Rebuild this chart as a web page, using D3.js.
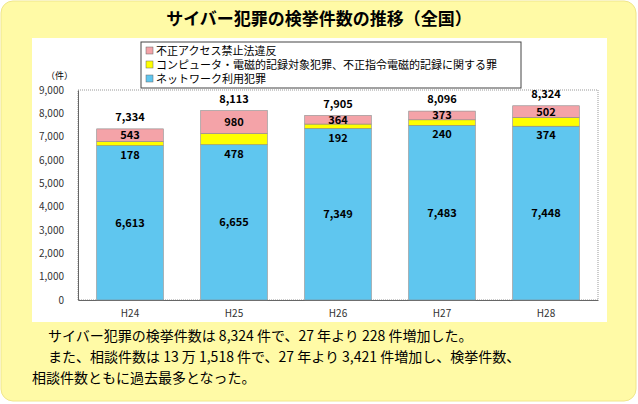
<!DOCTYPE html>
<html><head><meta charset="utf-8">
<script src="https://cdn.jsdelivr.net/npm/d3@7"></script>
<style>body{margin:0;background:#fff}text{font-family:"Noto Sans CJK JP",sans-serif}</style>
</head><body><svg id="c" width="638" height="404"></svg>
<script>
var years = ['H24','H25','H26','H27','H28'];
var network = [6613, 6655, 7349, 7483, 7448];
var computer = [178, 478, 192, 240, 374];
var access = [543, 980, 364, 373, 502];
var totals = [7334, 8113, 7905, 8096, 8324];
var yTicks = [0,1000,2000,3000,4000,5000,6000,7000,8000,9000];
var legendNames = ['不正アクセス禁止法違反','コンピュータ・電磁的記録対象犯罪、不正指令電磁的記録に関する罪','ネットワーク利用犯罪'];
var colors = ['#f4a3a8','#ffff00','#5fc6ef'];

var svg = d3.select('#c');
svg.append('rect').attr('x',1).attr('y',1).attr('width',635).attr('height',400).attr('rx',12)
  .attr('fill','#fffaa6').attr('stroke','#f0e68c');
svg.append('text').attr('x',319).attr('y',25).attr('text-anchor','middle')
  .attr('font-size',17).attr('font-weight','bold').text('サイバー犯罪の検挙件数の推移（全国）');
svg.append('rect').attr('x',32).attr('y',38).attr('width',575).attr('height',284).attr('fill','#fff');

var x = d3.scaleBand().domain(years).range([78,598]).paddingInner(0.36).paddingOuter(0.18);
var y = d3.scaleLinear().domain([0,9000]).range([300,90]);

var g = svg.append('g');
g.append('rect').attr('x',78).attr('y',90).attr('width',520).attr('height',210)
  .attr('fill','none').attr('stroke','#999').attr('stroke-dasharray','1,1');
var ax = g.append('g').attr('transform','translate(78,0)')
  .call(d3.axisLeft(y).tickValues(yTicks).tickFormat(d3.format(',')).tickSize(0).tickPadding(14));
ax.select('.domain').attr('stroke','#666');
ax.selectAll('text').attr('font-size',10).attr('fill','#333');
var xa = g.append('g').attr('transform','translate(0,300)').call(d3.axisBottom(x).tickSize(0).tickPadding(10));
xa.select('.domain').attr('stroke','#666');
xa.selectAll('text').attr('font-size',10).attr('fill','#333');
g.append('text').attr('x',46).attr('y',79).attr('font-size',9).text('（件）');

years.forEach(function(yr,i){
  var segs = [[0,network[i],colors[2]],[network[i],network[i]+computer[i],colors[1]],
              [network[i]+computer[i],totals[i],colors[0]]];
  segs.forEach(function(s){
    g.append('rect').attr('x',x(yr)).attr('width',x.bandwidth()).attr('y',y(s[1]))
      .attr('height',y(s[0])-y(s[1])).attr('fill',s[2]).attr('stroke','#888').attr('stroke-width',0.6);
  });
  var cx = x(yr)+x.bandwidth()/2;
  function lab(v,yy){g.append('text').attr('x',cx).attr('y',yy).attr('text-anchor','middle')
    .attr('font-size',11).attr('font-weight','bold').attr('font-family','Liberation Sans, Arial').text(d3.format(',')(v));}
  lab(network[i], y(network[i]/2)+4);
  lab(computer[i], y(network[i])+13);
  lab(access[i], y(network[i]+computer[i]+access[i]/2)+4);
  lab(totals[i], y(totals[i])-8);
});

var lg = svg.append('g');
lg.append('rect').attr('x',141).attr('y',42).attr('width',380).attr('height',46).attr('fill','#fff').attr('stroke','#444');
legendNames.forEach(function(n,i){
  lg.append('rect').attr('x',146).attr('y',47+i*14).attr('width',7).attr('height',7).attr('fill',colors[i]).attr('stroke','#666').attr('stroke-width',0.5);
  lg.append('text').attr('x',156).attr('y',55+i*14).attr('font-size',11).text(n);
});

var lines = [[48,'サイバー犯罪の検挙件数は 8,324 件で、27 年より 228 件増加した。'],
  [48,'また、相談件数は 13 万 1,518 件で、27 年より 3,421 件増加し、検挙件数、'],
  [32,'相談件数ともに過去最多となった。']];
lines.forEach(function(l,i){
  svg.append('text').attr('x',l[0]).attr('y',341+i*21).attr('font-size',14).text(l[1]);
});
</script></body></html>
